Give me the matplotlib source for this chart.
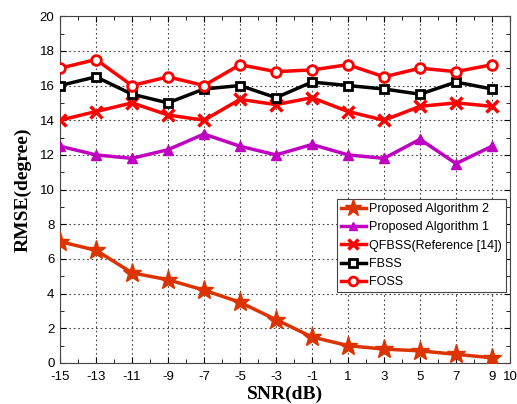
import matplotlib
matplotlib.use("Agg")
import matplotlib.pyplot as plt
import numpy as np

snr = [-15, -13, -11, -9, -7, -5, -3, -1, 1, 3, 5, 7, 9]
alg2 = [7.0, 6.5, 5.2, 4.8, 4.2, 3.5, 2.5, 1.5, 1.0, 0.8, 0.7, 0.5, 0.3]
alg1 = [12.5, 12.0, 11.8, 12.3, 13.2, 12.5, 12.0, 12.6, 12.0, 11.8, 12.9, 11.5, 12.5]
qfbss = [14.0, 14.5, 15.0, 14.3, 14.0, 15.2, 14.9, 15.3, 14.5, 14.0, 14.8, 15.0, 14.8]
fbss = [16.0, 16.5, 15.5, 15.0, 15.8, 16.0, 15.3, 16.2, 16.0, 15.8, 15.5, 16.2, 15.8]
foss = [17.0, 17.5, 16.0, 16.5, 16.0, 17.2, 16.8, 16.9, 17.2, 16.5, 17.0, 16.8, 17.2]
labels = ["Proposed Algorithm 2", "Proposed Algorithm 1", "QFBSS(Reference [14])", "FBSS", "FOSS"]
xticks = [-15, -13, -11, -9, -7, -5, -3, -1, 1, 3, 5, 7, 9, 10]
yticks = [0, 2, 4, 6, 8, 10, 12, 14, 16, 18, 20]

plt.rcParams['font.family'] = ['Liberation Sans', 'DejaVu Sans']
plt.rcParams['axes.unicode_minus'] = False

fig = plt.figure(figsize=(5.17, 4.04), dpi=100)
ax = fig.add_axes([0.116, 0.1015, 0.8705, 0.8585])

lw = 2.5
ax.plot(snr, alg2, color='#dd3300', lw=lw, marker='*', ms=14, mfc='#dd3300', mec='#dd3300', label=labels[0], zorder=5)
ax.plot(snr, alg1, color='#c000c0', lw=lw, marker='^', ms=7, mfc='#c000c0', mec='#c000c0', label=labels[1], zorder=4)
ax.plot(snr, qfbss, color='#ff0000', lw=lw, marker='x', ms=8, mew=2.5, label=labels[2], zorder=4)
ax.plot(snr, fbss, color='black', lw=lw, marker='s', ms=6, mfc='white', mew=2, label=labels[3], zorder=4)
ax.plot(snr, foss, color='#ff0000', lw=lw, marker='o', ms=7, mfc='white', mew=2, label=labels[4], zorder=4)

ax.set_xlim(-15, 10)
ax.set_ylim(0, 20)
ax.set_xticks(xticks)
ax.set_yticks(yticks)
ax.set_xticks(np.arange(-14, 10, 2), minor=True)
ax.set_yticks(np.arange(1, 20, 2), minor=True)
ax.tick_params(which='both', direction='in', top=True, right=True, labelsize=9.5)
ax.tick_params(axis='x', which='major', pad=6)
ax.tick_params(axis='y', which='major', pad=4)
ax.tick_params(which='major', length=4)
ax.tick_params(which='minor', length=3)
ax.grid(True, which='major', linestyle=(0, (1.5, 2.5)), color='#444444', lw=0.8)
for s in ax.spines.values():
    s.set_color('#444444')
    s.set_linewidth(0.8)

ax.set_xlabel('SNR(dB)', family=['Liberation Serif'], fontweight='bold', fontsize=14, labelpad=2)
ax.set_ylabel('RMSE(degree)', family=['Liberation Serif'], fontweight='bold', fontsize=14, labelpad=6)

leg = ax.legend(loc='lower right', bbox_to_anchor=(0.991, 0.205), borderaxespad=0,
                fontsize=9, fancybox=False, framealpha=1, edgecolor='#444444',
                handlelength=2.0, handletextpad=0.3, labelspacing=0.5, borderpad=0.3,
                markerscale=0.9)
leg.get_frame().set_linewidth(0.8)

fig.savefig('out.png', dpi=100)
